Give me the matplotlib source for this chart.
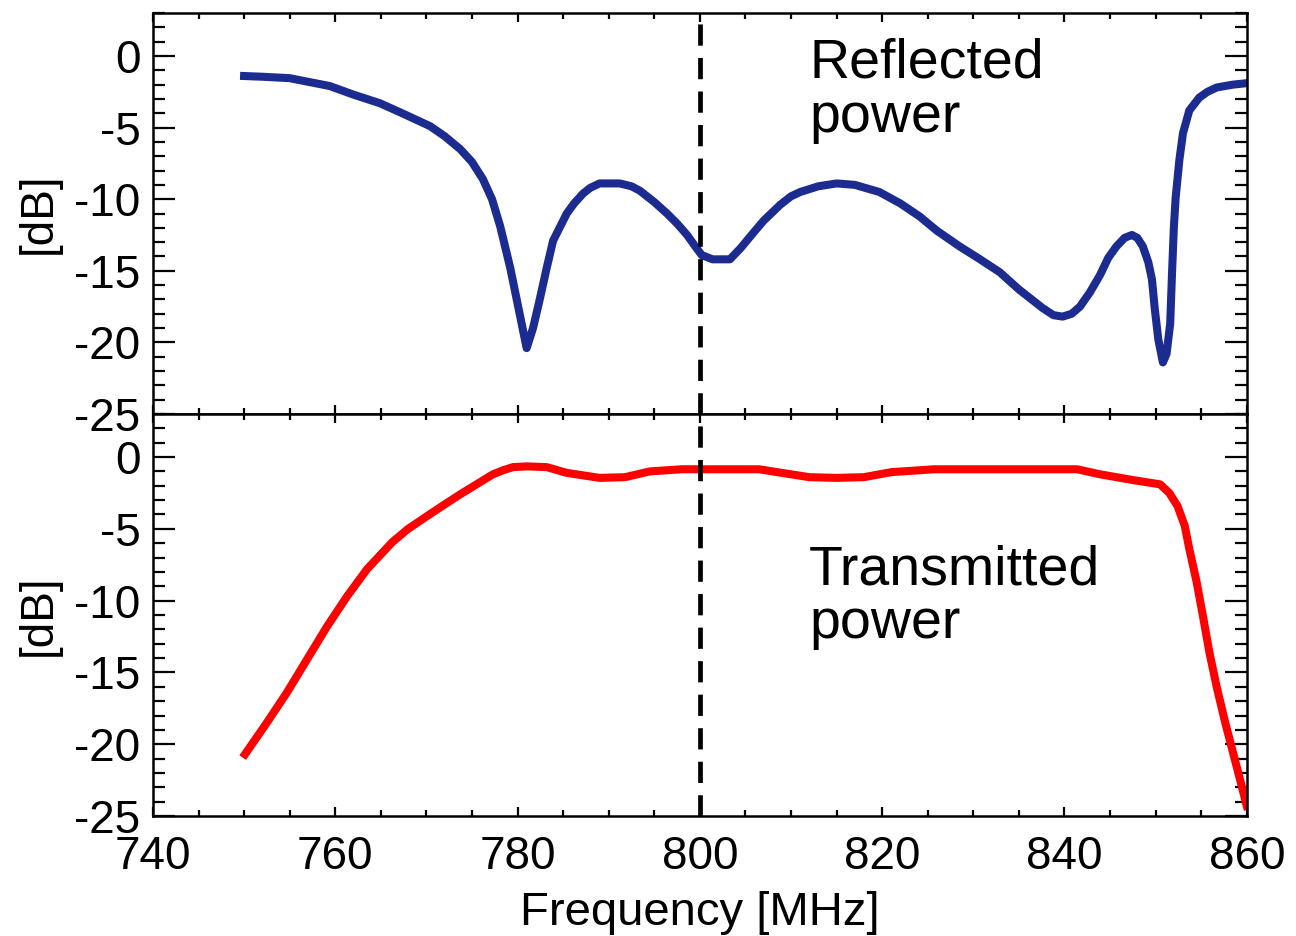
import matplotlib
matplotlib.use('Agg')
import matplotlib.pyplot as plt
from matplotlib.ticker import MultipleLocator

plt.rcParams['font.family'] = ['Liberation Sans', 'DejaVu Sans']
plt.rcParams['axes.unicode_minus'] = False

# reflected power (S11)
freq_refl = [750.0, 752.0, 755.0, 759.4, 762.0, 764.9, 767.0, 770.4, 772.0, 773.7,
             775.0, 776.2, 777.2, 778.1, 779.2, 780.1, 781.0, 781.7, 782.4, 783.2,
             783.9, 785.4, 786.2, 787.2, 788.0, 789.0, 791.2, 792.5, 793.4, 795.0,
             796.4, 797.5, 798.6, 799.5, 800.2, 801.4, 803.3, 804.5, 805.8, 807.0,
             808.8, 810.0, 811.0, 813.0, 815.0, 817.0, 819.7, 822.0, 824.1, 826.0,
             828.5, 830.5, 832.9, 835.0, 837.6, 838.8, 839.8, 840.8, 841.7, 842.8,
             843.9, 844.8, 845.7, 846.6, 847.4, 848.0, 848.6, 849.2, 849.6, 849.9,
             850.3, 850.8, 851.2, 851.6, 851.8, 852.0, 852.2, 852.6, 853.0, 853.7,
             854.8, 855.7, 856.7, 858.5, 860.0]
db_refl = [-1.4, -1.45, -1.55, -2.1, -2.7, -3.3, -3.9, -4.9, -5.6, -6.5,
           -7.4, -8.6, -10.0, -11.9, -14.8, -17.6, -20.4, -19.0, -17.1, -14.8,
           -12.9, -11.0, -10.3, -9.6, -9.2, -8.9, -8.9, -9.1, -9.4, -10.2,
           -11.0, -11.7, -12.5, -13.3, -13.9, -14.2, -14.2, -13.4, -12.4, -11.5,
           -10.4, -9.8, -9.5, -9.1, -8.9, -9.0, -9.5, -10.3, -11.2, -12.2,
           -13.3, -14.1, -15.1, -16.3, -17.6, -18.1, -18.2, -18.0, -17.5, -16.5,
           -15.3, -14.1, -13.3, -12.7, -12.5, -12.7, -13.3, -14.4, -15.6, -17.6,
           -19.8, -21.4, -20.8, -18.7, -15.2, -12.0, -9.9, -7.3, -5.4, -3.8,
           -2.9, -2.5, -2.2, -2.0, -1.9]

# transmitted power (S21)
freq_trans = [750.1, 752.5, 754.7, 756.9, 759.1, 761.3, 763.5, 766.3, 768.0, 770.1,
              772.0, 773.7, 775.5, 777.3, 778.5, 779.5, 781.0, 783.2, 785.4, 789.0,
              791.8, 794.5, 798.0, 806.5, 809.0, 812.0, 815.0, 818.0, 821.0, 825.7,
              841.4, 843.9, 847.5, 850.5, 851.5, 852.4, 853.2, 853.7, 854.5, 855.2,
              855.9, 856.7, 857.6, 858.5, 859.4, 860.0]
db_trans = [-20.7, -18.5, -16.4, -14.1, -11.8, -9.7, -7.8, -5.9, -5.0, -4.1,
            -3.3, -2.6, -1.9, -1.2, -0.9, -0.7, -0.65, -0.7, -1.1, -1.45,
            -1.4, -1.0, -0.85, -0.85, -1.1, -1.4, -1.45, -1.4, -1.05, -0.85,
            -0.85, -1.2, -1.6, -1.9, -2.5, -3.4, -4.8, -6.4, -8.7, -11.1,
            -13.6, -16.0, -18.4, -20.6, -22.8, -24.3]

marker_freq = 800

fig = plt.figure(figsize=(12.96, 9.36), dpi=100)
ax_top = fig.add_axes([0.118, 0.5577, 0.844, 0.4284])
ax_bot = fig.add_axes([0.118, 0.1282, 0.844, 0.4295])

ax_top.plot(freq_refl, db_refl, color='#1c2b90', lw=5.8, solid_joinstyle='round')
ax_bot.plot(freq_trans, db_trans, color='#ff0000', lw=5.8, solid_joinstyle='round')

for ax in (ax_top, ax_bot):
    ax.axvline(marker_freq, color='black', lw=3.4, dashes=(4.5, 2.6))
    ax.set_xlim(740, 860)
    ax.set_ylim(-25, 3)
    ax.xaxis.set_major_locator(MultipleLocator(20))
    ax.xaxis.set_minor_locator(MultipleLocator(5))
    ax.yaxis.set_major_locator(MultipleLocator(5))
    ax.yaxis.set_minor_locator(MultipleLocator(1))
    ax.tick_params(which='both', direction='in', top=True, right=True, width=1.6,
                   labelsize=33, colors='black')
    ax.tick_params(axis='y', which='major', length=16, pad=9)
    ax.tick_params(axis='y', which='minor', length=8.5)
    ax.tick_params(axis='x', which='major', length=6.5, pad=14)
    ax.tick_params(axis='x', which='minor', length=4.5)
    for sp in ax.spines.values():
        sp.set_linewidth(1.8)
    ax.set_ylabel('[dB]', fontsize=33, labelpad=10)

ax_top.tick_params(axis='x', labelbottom=False)
ax_bot.set_xlabel('Frequency [MHz]', fontsize=34, labelpad=8.5)

ax_top.text(812, -1.5, 'Reflected', fontsize=40, va='baseline', ha='left')
ax_top.text(812, -5.3, 'power', fontsize=40, va='baseline', ha='left')
ax_bot.text(812, -8.9, 'Transmitted', fontsize=40, va='baseline', ha='left')
ax_bot.text(812, -12.6, 'power', fontsize=40, va='baseline', ha='left')

fig.savefig('out.png', dpi=100)
